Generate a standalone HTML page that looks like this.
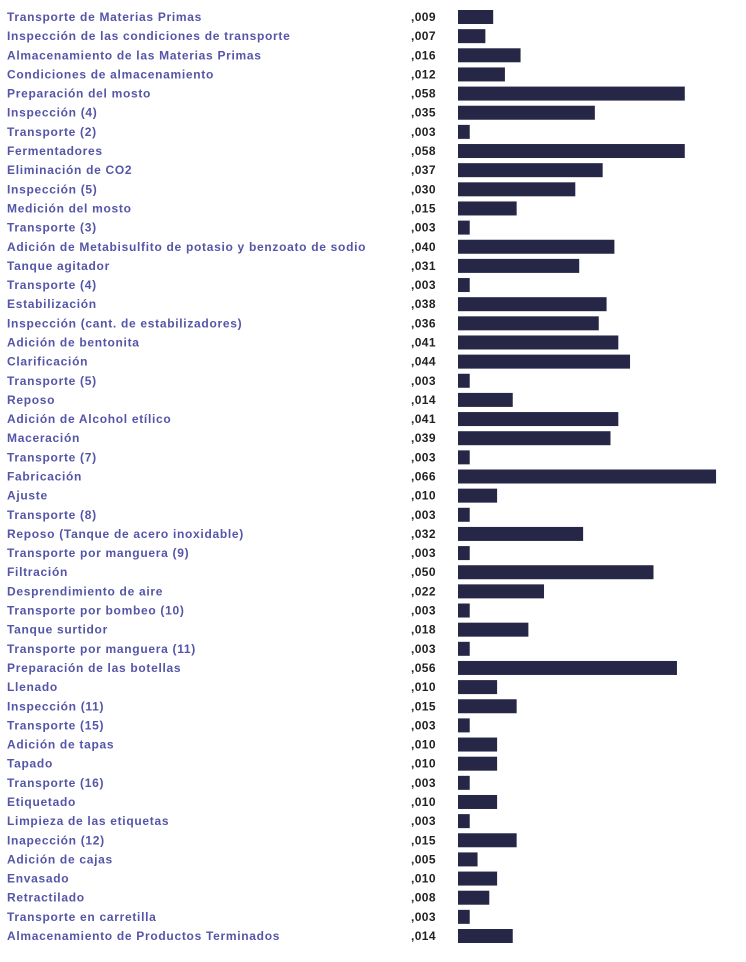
<!DOCTYPE html>
<html><head><meta charset="utf-8"><style>
body{margin:0;background:#fff;width:746px;height:962px;overflow:hidden}
svg{display:block}
</style></head><body>
<svg id="chart" width="746" height="962" xmlns="http://www.w3.org/2000/svg"></svg>
<script>
const categories=["Transporte de Materias Primas","Inspección de las condiciones de transporte","Almacenamiento de las Materias Primas","Condiciones de almacenamiento","Preparación del mosto","Inspección (4)","Transporte (2)","Fermentadores","Eliminación de CO2","Inspección (5)","Medición del mosto","Transporte (3)","Adición de Metabisulfito de potasio y benzoato de sodio","Tanque agitador","Transporte (4)","Estabilización","Inspección (cant. de estabilizadores)","Adición de bentonita","Clarificación","Transporte (5)","Reposo","Adición de Alcohol etílico","Maceración","Transporte (7)","Fabricación","Ajuste","Transporte (8)","Reposo (Tanque de acero inoxidable)","Transporte por manguera (9)","Filtración","Desprendimiento de aire","Transporte por bombeo (10)","Tanque surtidor","Transporte por manguera (11)","Preparación de las botellas","Llenado","Inspección (11)","Transporte (15)","Adición de tapas","Tapado","Transporte (16)","Etiquetado","Limpieza de las etiquetas","Inapección (12)","Adición de cajas","Envasado","Retractilado","Transporte en carretilla","Almacenamiento de Productos Terminados"];
const values=[.009,.007,.016,.012,.058,.035,.003,.058,.037,.030,.015,.003,.040,.031,.003,.038,.036,.041,.044,.003,.014,.041,.039,.003,.066,.010,.003,.032,.003,.050,.022,.003,.018,.003,.056,.010,.015,.003,.010,.010,.003,.010,.003,.015,.005,.010,.008,.003,.014];
const valueLabels=values.map(v=>","+v.toFixed(3).split(".")[1]);
const svg=document.getElementById('chart');
const NS="http://www.w3.org/2000/svg";
const x0=458, pxPerUnit=3910;
const xScale=v=>v*pxPerUnit;
const yTop=17, step=(936-17)/48;
const yScale=i=>yTop+i*step;
categories.forEach((c,i)=>{
  const y=yScale(i);
  const t=document.createElementNS(NS,'text');
  
  
  t.setAttribute('x',7);t.setAttribute('y',y+4);
  t.setAttribute('font-family','Liberation Sans, sans-serif');
  t.setAttribute('font-size','12');t.setAttribute('font-weight','bold');
  t.setAttribute('letter-spacing','0.7');t.setAttribute('fill','#5555a8');
  t.textContent=c;svg.appendChild(t);
  const v=document.createElementNS(NS,'text');
  
  
  v.setAttribute('x',411);v.setAttribute('y',y+4);
  v.setAttribute('font-family','Liberation Sans, sans-serif');
  v.setAttribute('font-size','12');v.setAttribute('font-weight','bold');v.setAttribute('fill','#222');
  v.setAttribute('letter-spacing','0.4');
  v.textContent=valueLabels[i];svg.appendChild(v);
  const r=document.createElementNS(NS,'rect');
  
  
  r.setAttribute('x',x0);r.setAttribute('y',y-7);
  r.setAttribute('width',xScale(values[i]));r.setAttribute('height',14);
  r.setAttribute('fill','#262647');svg.appendChild(r);
});
</script>
</body></html>
